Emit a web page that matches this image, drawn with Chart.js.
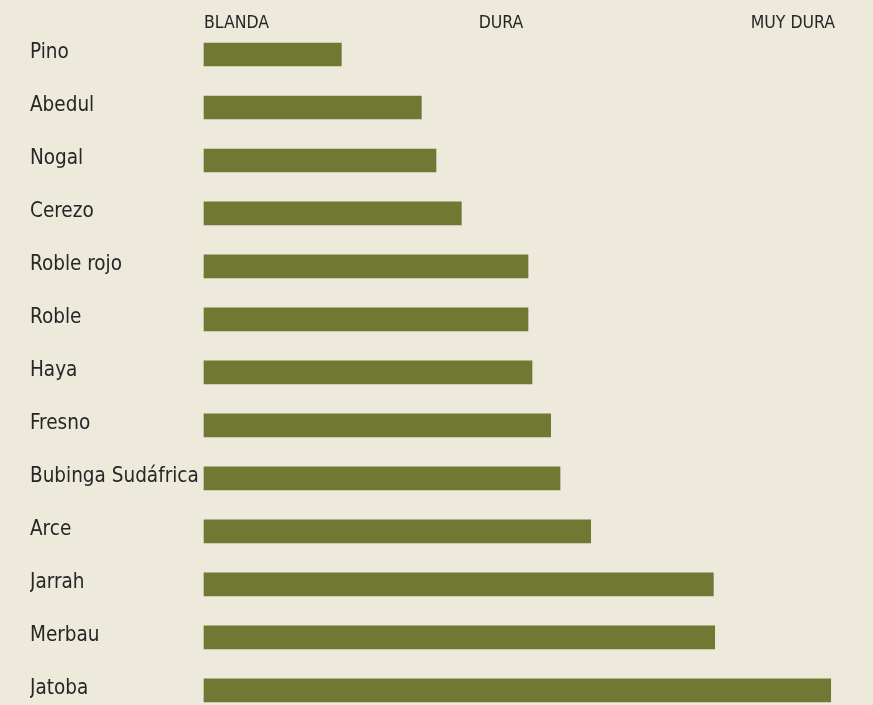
<!DOCTYPE html>
<html>
<head>
<meta charset="utf-8">
<script src="https://cdn.jsdelivr.net/npm/chart.js@4.4.1/dist/chart.umd.min.js"></script>
<style>
  html, body { margin: 0; padding: 0; background: #EDEADC; }
  #wrap { width: 873px; height: 705px; position: relative; }
</style>
</head>
<body>
<div id="wrap"><canvas id="durezaChart"></canvas></div>
<script>
// maderas y dureza (aprox. Janka)
var maderas = ['Pino', 'Abedul', 'Nogal', 'Cerezo', 'Roble rojo', 'Roble', 'Haya',
  'Fresno', 'Bubinga Sudáfrica', 'Arce', 'Jarrah', 'Merbau', 'Jatoba'];
var dureza = [515, 815, 870, 965, 1215, 1215, 1230, 1300, 1335, 1450, 1910, 1915, 2350];

// escala de arriba
var escalaTexto = ['BLANDA', 'DURA', 'MUY DURA'];
var escalaValor = [0, 1030, 2050];

var fuente = "'DejaVu Sans Condensed', sans-serif";

var ctx = document.getElementById('durezaChart');
var chart = new Chart(ctx, {
  type: 'bar',
  data: {
    labels: maderas,
    datasets: [{
      data: dureza,
      backgroundColor: '#6F7934',
      barThickness: 23,
      borderWidth: 0,
      clip: false
    }]
  },
  options: {
    indexAxis: 'y',
    responsive: true,
    maintainAspectRatio: false,
    animation: false,
    layout: {
      padding: { top: 9.5, bottom: 14.7, left: 30, right: 2.3 }
    },
    plugins: {
      legend: { display: false },
      tooltip: { enabled: false }
    },
    scales: {
      x: {
        position: 'top',
        min: 0,
        max: 2500,
        grid: { display: false, drawTicks: false },
        border: { display: false },
        afterBuildTicks: function (scale) {
          scale.ticks = escalaValor.map(function (v) { return { value: v }; });
        },
        afterFit: function (scale) {
          scale.height = 45;
        },
        ticks: {
          align: 'start',
          padding: 21,
          color: '#262626',
          font: { family: fuente, size: 17.5, lineHeight: 1.2 },
          callback: function (value) {
            var i = escalaValor.indexOf(value);
            return i >= 0 ? escalaTexto[i] : '';
          }
        }
      },
      y: {
        offset: false,
        grid: { display: false, drawTicks: false },
        border: { display: false },
        afterFit: function (scale) {
          scale.width = 174;
          scale.paddingTop = 0;
          scale.paddingBottom = 0;
        },
        ticks: {
          autoSkip: false,
          crossAlign: 'far',
          labelOffset: -1.5,
          color: '#262626',
          font: { family: fuente, size: 20.5 }
        }
      }
    }
  }
});
</script>
</body>
</html>
